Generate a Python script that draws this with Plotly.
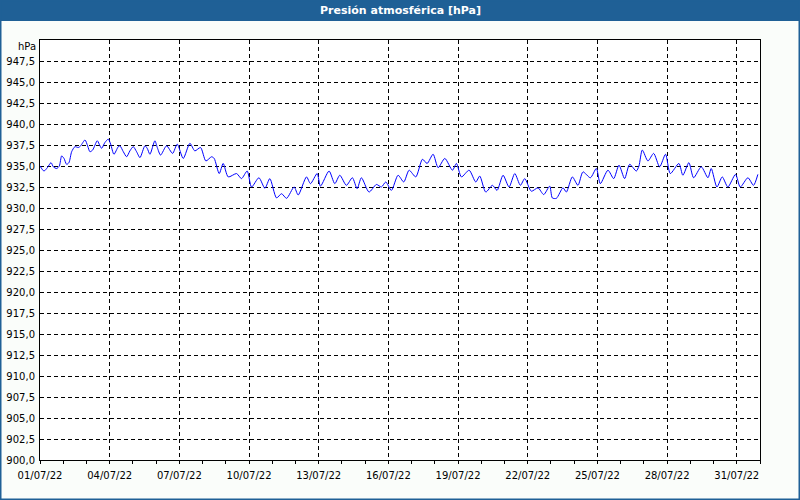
import pandas as pd
import plotly.graph_objects as go

# hours since 01/07/2022 00:00 and pressure readings (hPa)
hours = [0, 4.1, 7.6, 11.4, 13.8, 17.2, 20.0, 22.4, 24.8, 27.5, 29.9, 32.7, 36.1, 39.6, 42.0,
         46.5, 49.2, 51.6, 54.4, 59.2, 62.0, 63.7, 67.1, 70.6, 73.0, 76.4, 80.9, 82.6, 86.1,
         89.5, 92.9, 96.4, 99.8, 103.3, 108.4, 110.8, 113.6, 118.7, 121.2, 124.6, 130.8,
         137.0, 141.8, 148.0, 154.9, 160.0, 165.9, 171.4, 177.3, 180.0, 185.2, 189.3, 194.5,
         203.1, 208.2, 214.1, 218.6, 226.2, 232.4, 237.5, 244.4, 249.6, 254.8, 262.6, 266.8,
         275.4, 279.5, 286.4, 289.8, 298.7, 304.6, 309.8, 316.6, 322.8, 327.7, 332.1, 340.0,
         347.6, 352.8, 357.3, 363.1, 370.0, 375.9, 381.4, 388.3, 395.2, 400.0, 406.2, 411.4,
         418.3, 426.2, 430.3, 435.5, 443.4, 450.3, 454.4, 460.6, 467.5, 472.3, 478.5, 484.7,
         490.6, 496.4, 500.9, 507.7, 514.6, 520.5, 526.7, 529.4, 533.6, 540.4, 543.9, 550.1,
         555.9, 561.1, 568.7, 574.9, 579.0, 586.9, 592.8, 598.3, 604.1, 609.3, 616.2, 618.9,
         622.4, 628.2, 634.1, 640.3, 646.4, 651.3, 660.2, 664.3, 670.5, 675.4, 683.3, 690.2,
         693.6, 699.5, 705.0, 710.8, 718.7, 723.6, 731.5, 737.3, 741.8]
hpa = [935.0, 934.4, 934.8, 935.4, 934.9, 934.7, 935.0, 936.2, 935.9, 935.2, 935.4, 936.7, 937.3, 937.2, 937.4,
       938.1, 937.4, 936.7, 936.9, 938.0, 937.4, 937.1, 937.8, 938.2, 937.6, 936.4, 937.3, 937.4, 936.7,
       936.1, 936.8, 937.3, 936.7, 936.0, 937.4, 937.1, 936.4, 938.0, 937.2, 936.3, 937.4,
       936.5, 937.6, 935.9, 937.7, 936.8, 937.2, 935.6, 936.1, 935.9, 934.1, 935.3, 933.7,
       934.1, 933.5, 934.4, 932.5, 933.6, 932.35, 933.5, 931.2, 931.7, 931.15, 932.5, 931.55,
       933.7, 932.9, 934.1, 932.6, 934.4, 932.9, 933.9, 932.7, 933.6, 932.3, 933.6, 931.9,
       932.8, 932.5, 933.1, 932.1, 933.9, 933.1, 934.5, 933.7, 935.8, 935.3, 936.4, 934.8,
       935.9, 934.5, 935.3, 933.7, 934.5, 933.1, 933.8, 931.9, 932.7, 932.1, 933.9, 932.5,
       934.1, 932.7, 933.5, 932.0, 932.4, 931.6, 932.6, 931.2, 931.15, 932.4, 931.9, 933.7,
       932.7, 934.3, 933.6, 934.7, 932.9, 934.5, 933.5, 935.1, 933.5, 935.2, 934.4, 935.0,
       936.9, 935.6, 936.5, 934.9, 936.4, 934.1, 935.3, 933.9, 935.4, 933.6, 934.9, 933.6,
       934.7, 932.5, 933.7, 932.5, 934.0, 932.5, 933.6, 932.7, 934.0]

y_ticks = [900 + 2.5 * i for i in range(21)]
y_labels = [f"{v:.1f}".replace(".", ",") for v in y_ticks[:-1]] + [""]
unit_label = "hPa"

start = pd.Timestamp("2022-07-01 00:00")
times = [start + pd.Timedelta(hours=h) for h in hours]

W, H = 800, 500
ML, MR, MT, MB = 40, 40, 40, 40
PW, PH = W - ML - MR, H - MT - MB
BLUE = "#1F6096"
FONT = "DejaVu Sans"


def px_x(p):
    return (p - ML) / PW


def px_y(p):
    return 1 - (p - MT) / PH


fig = go.Figure()
fig.add_trace(go.Scatter(x=times, y=hpa, mode="lines",
                         line=dict(color="#0000FF", width=1, shape="spline", smoothing=0.7),
                         hoverinfo="skip"))

grid = dict(showgrid=True, gridcolor="#000000", gridwidth=1, griddash="4px,3px",
            showline=True, linecolor="#000000", linewidth=1, mirror=True, zeroline=False,
            automargin=False)

fig.update_layout(
    width=W, height=H,
    margin=dict(l=ML, r=MR, t=MT, b=MB, autoexpand=False),
    paper_bgcolor="#FAFDFA", plot_bgcolor="#FFFFFF",
    showlegend=False,
    separators=", ",
    font=dict(family=FONT, size=10, color="#000000"),
    xaxis=dict(type="date", range=[start, start + pd.Timedelta(days=31)],
               tick0=start, dtick=3 * 86400000, tickformat="%d/%m/%y",
               ticks="outside", ticklen=3, tickcolor="#000000",
               minor=dict(dtick=86400000, ticks="outside", ticklen=3, tickcolor="#000000", showgrid=False),
               ticklabelstandoff=3,
               **grid),
    yaxis=dict(range=[900, 950], tickvals=y_ticks, ticktext=y_labels, ticks="",
               ticklabelstandoff=2,
               **grid),
    shapes=[
        dict(type="rect", xref="paper", yref="paper",
             x0=px_x(0), x1=px_x(W), y0=px_y(0), y1=px_y(21),
             fillcolor=BLUE, line=dict(width=0), layer="below"),
        dict(type="rect", xref="paper", yref="paper",
             x0=px_x(0.75), x1=px_x(W - 0.75), y0=px_y(0.75), y1=px_y(H - 0.75),
             line=dict(color=BLUE, width=1.5)),
    ],
    annotations=[
        dict(text="<b>Presión atmosférica [hPa]</b>", xref="paper", yref="paper",
             x=px_x(W / 2), y=px_y(10.5), xanchor="center", yanchor="middle",
             showarrow=False, font=dict(family=FONT, size=11, color="#FFFFFF")),
        dict(text=unit_label, xref="paper", yref="y", x=0, y=950,
             xanchor="right", yanchor="middle", xshift=-2, yshift=-6,
             showarrow=False, font=dict(family=FONT, size=10, color="#000000")),
    ],
)

fig.write_html("out.html", config={"displayModeBar": False},
               post_script="document.body.style.margin='0';document.body.style.overflow='hidden';")
